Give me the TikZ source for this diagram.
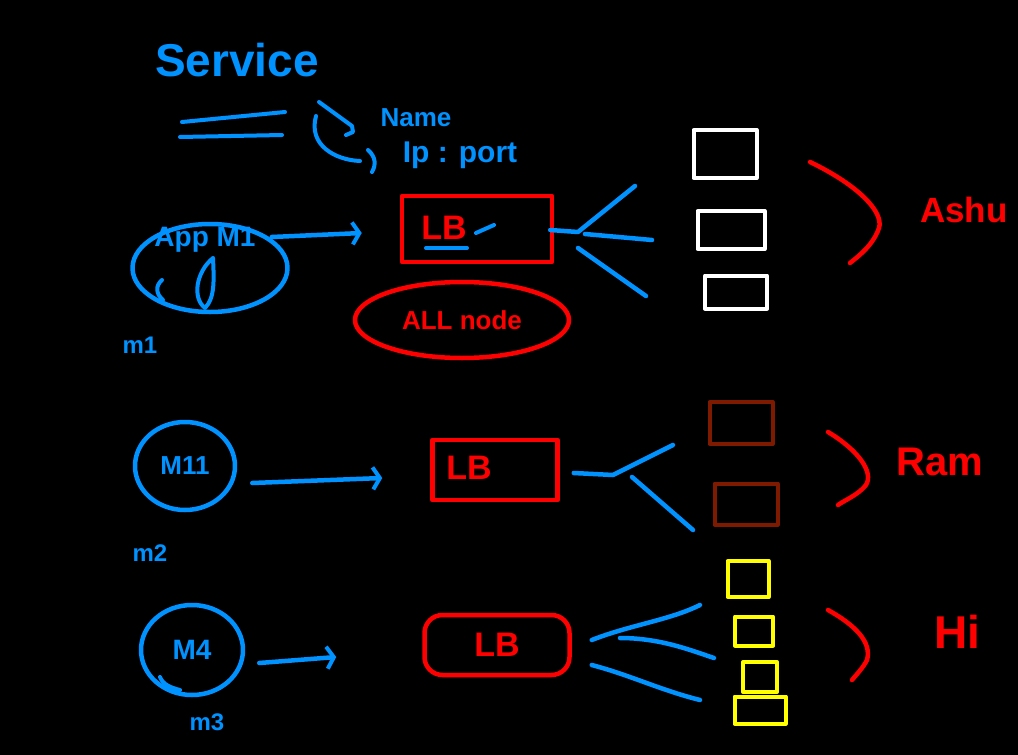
\documentclass[tikz,border=0pt]{standalone}
\usepackage{fontspec}
\setmainfont{Liberation Sans}
\usetikzlibrary{shapes.geometric,arrows.meta}
\definecolor{inkblue}{RGB}{0,146,255}
\definecolor{inkred}{RGB}{255,0,0}
\definecolor{inkbrown}{RGB}{125,26,0}
\definecolor{inkyellow}{RGB}{255,255,0}
\newcommand{\fs}[1]{\fontsize{#1}{#1}\selectfont\bfseries}
\begin{document}
\begin{tikzpicture}[x=1pt,y=-1pt,line cap=round,line join=round,
  pen/.style={line width=4.5pt},
  bluepen/.style={pen,draw=inkblue},
  redpen/.style={pen,draw=inkred},
  machine/.style={bluepen,ellipse,inner sep=0pt,text=inkblue},
  lbbox/.style={redpen,rectangle,inner sep=0pt,text=inkred,font=\fs{34}},
  podbox/.style={line width=4pt,rectangle,inner sep=0pt},
  bluetext/.style={text=inkblue,inner sep=0pt},
  redtext/.style={text=inkred,inner sep=0pt},
  arr/.style={bluepen,-{Straight Barb[length=7pt,width=22pt,line width=4pt]}}]
\fill[black] (0,0) rectangle (1018,755);
\useasboundingbox (0,0) rectangle (1018,755);

% heading with its notes
\node[bluetext,font=\fs{46}] (svc) at (237,60) {Service};
\node[bluetext,font=\fs{26}] (name) at (416,118) {Name};
\node[bluetext,font=\fs{30}] (ipport) at (460,155) {Ip : port};
\draw[bluepen,line width=4pt] (182,122) -- (285,112);
\draw[bluepen,line width=4pt] (180,137) -- (282,135);
\draw[bluepen,line width=4pt] (319,102) -- (352,126) -- (353,132) -- (346,135);
\draw[bluepen,line width=4pt] (316,116) .. controls (308,145) and (335,160) .. (360,161);
\draw[bluepen,line width=4pt] (368,150) .. controls (376,157) and (376,165) .. (372,172);

% row 1: app machine, load balancer and white pods
\node[machine,minimum width=155,minimum height=88,font=\fs{26}] (app) at (210,268) {};
\node[bluetext,font=\fs{28}] (applbl) at (205,240) {App M1};
\draw[bluepen,line width=4pt] (213,258) .. controls (196,272) and (192,298) .. (205,308)
  .. controls (215,298) and (214,280) .. (213,258);
\draw[bluepen,line width=4pt] (162,280) .. controls (155,286) and (156,294) .. (163,300);
\node[bluetext,font=\fs{24}] (m1) at (140,345) {m1};
\node[lbbox,minimum width=150,minimum height=66] (lb1) at (477,229) {};
\node[redtext,font=\fs{34}] (lb1t) at (444,228) {LB};
\draw[bluepen,line width=4pt] (426,248) -- (467,248);
\draw[bluepen,line width=4pt] (476,233) -- (494,225);
\node[redpen,ellipse,minimum width=214,minimum height=76,inner sep=0pt,text=inkred,font=\fs{26}] (all) at (462,320) {ALL node};
\draw[arr] ([shift={(-18,-31)}]app.east) -- ([shift={(-38,4)}]lb1.west);
\coordinate (f1) at (578,232);
\draw[bluepen] ([shift={(-4,1)}]lb1.east) -- (f1) -- (635,186);
\draw[bluepen] (585,234) -- (652,240);
\draw[bluepen] (578,248) -- (646,296);
\node[podbox,draw=white,minimum width=63,minimum height=48] (w1) at (725,154) {};
\node[podbox,draw=white,minimum width=67,minimum height=38] (w2) at (731,230) {};
\node[podbox,draw=white,minimum width=62,minimum height=33] (w3) at (736,292) {};
\draw[redpen] (810,162) .. controls (858,185) and (884,212) .. (879,228)
  .. controls (873,245) and (860,255) .. (850,263);
\node[redtext,font=\fs{35}] (ashu) at (964,210) {Ashu};

% row 2
\node[machine,minimum width=100,minimum height=88,font=\fs{26}] (m11) at (185,466) {M11};
\node[bluetext,font=\fs{24}] (m2) at (150,553) {m2};
\node[lbbox,minimum width=125,minimum height=60] (lb2) at (495,470) {};
\node[redtext,font=\fs{34}] (lb2t) at (469,468) {LB};
\draw[arr] ([shift={(15,17)}]m11.east) -- ([shift={(-48,8)}]lb2.west);
\coordinate (f2) at (613,475);
\draw[bluepen] ([shift={(14,3)}]lb2.east) -- (f2) -- (673,445);
\draw[bluepen] (632,477) -- (693,530);
\node[podbox,draw=inkbrown,minimum width=63,minimum height=42] (b1) at (741,423) {};
\node[podbox,draw=inkbrown,minimum width=63,minimum height=41] (b2) at (746,504) {};
\draw[redpen] (828,432) .. controls (858,450) and (874,472) .. (866,485)
  .. controls (858,495) and (845,500) .. (838,505);
\node[redtext,font=\fs{40}] (ram) at (940,462) {Ram};

% row 3
\node[machine,minimum width=102,minimum height=90,font=\fs{28}] (m4) at (192,650) {M4};
\draw[bluepen,line width=4pt] (160,677) .. controls (163,685) and (172,688) .. (180,690);
\node[bluetext,font=\fs{24}] (m3) at (207,722) {m3};
\node[lbbox,rounded corners=18pt,minimum width=145,minimum height=60] (lb3) at (497,645) {LB};
\draw[arr] ([shift={(14,13)}]m4.east) -- ([shift={(-86,12)}]lb3.west);
\draw[bluepen] ([shift={(20,-5)}]lb3.east) .. controls (630,625) and (670,620) .. (700,605);
\draw[bluepen] (620,638) .. controls (660,638) and (690,650) .. (714,658);
\draw[bluepen] ([shift={(20,20)}]lb3.east) .. controls (630,675) and (660,690) .. (700,700);
\node[podbox,draw=inkyellow,minimum width=41,minimum height=36] (y1) at (748,579) {};
\node[podbox,draw=inkyellow,minimum width=38,minimum height=29] (y2) at (754,631) {};
\node[podbox,draw=inkyellow,minimum width=34,minimum height=30] (y3) at (760,677) {};
\node[podbox,draw=inkyellow,minimum width=51,minimum height=27] (y4) at (760,710) {};
\draw[redpen] (828,610) .. controls (855,625) and (872,642) .. (867,660)
  .. controls (863,668) and (856,675) .. (852,680);
\node[redtext,font=\fs{46}] (hi) at (957,632) {Hi};
\end{tikzpicture}
\end{document}
